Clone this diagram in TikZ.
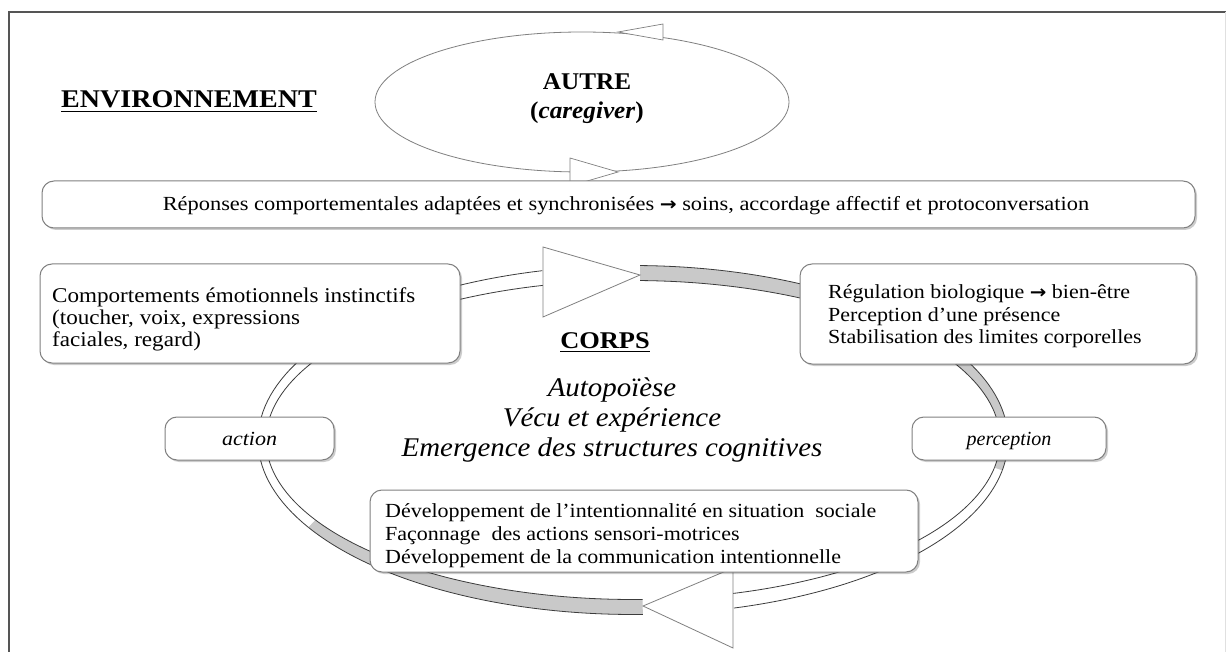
\documentclass[tikz,border=0pt]{standalone}
\usepackage{fontspec}
\setmainfont{Liberation Serif}
\newfontfamily\arrowfont{DejaVu Sans}
\usetikzlibrary{shadows,shapes.geometric}
\definecolor{framecol}{HTML}{555555}
\definecolor{edgecol}{HTML}{808080}
\definecolor{bandcol}{HTML}{C9C9C9}
\definecolor{bandedge}{HTML}{3C3C3C}
\newcommand\myfs[2]{\fontsize{#1}{#2}\selectfont}
\newcommand\sx[2][1.1]{\scalebox{#1}[1]{#2}}
\newcommand\arr{{\arrowfont\bfseries\scalebox{0.9}{→}}}
\newcommand\bandseg[3]{%
  \fill[#3] plot[domain=#1:#2,samples=60] ({633+375*cos(\x)},{440+174.5*sin(\x)})
     -- plot[domain=#2:#1,samples=60] ({633+367*cos(\x)},{440+159.5*sin(\x)}) -- cycle;
  \draw[bandline] plot[domain=#1:#2,samples=60] ({633+375*cos(\x)},{440+174.5*sin(\x)});
  \draw[bandline] plot[domain=#1:#2,samples=60] ({633+367*cos(\x)},{440+159.5*sin(\x)});
}
\tikzset{
  frameline/.style={draw=framecol, line width=1.5pt},
  boxst/.style={draw=edgecol, line width=1pt, rounded corners=12pt, fill=white,
     drop shadow={shadow xshift=2pt, shadow yshift=-2pt, opacity=.2, fill=black}},
  txt/.style={inner sep=0pt, anchor=base west},
  ctxt/.style={inner sep=0pt, anchor=base},
  bandline/.style={draw=bandedge, line width=0.8pt},
  tri/.style={draw=edgecol, line width=0.8pt, fill=white, line join=miter},
  thintri/.style={draw=edgecol, line width=0.7pt, fill=white},
  bodytxt/.style={font=\myfs{20}{22}},
  lefttxt/.style={font=\myfs{21}{22}},
}
\begin{document}
\begin{tikzpicture}[x=1pt,y=-1pt]
\useasboundingbox (0,0) rectangle (1226,652);
\fill[white] (0,0) rectangle (1226,652);
% frame
\draw[frameline] (9,652) -- (9,12) -- (1226,12);
\draw[draw=black!12, line width=1pt] (1225,12) -- (1225,652);

% ENVIRONNEMENT
\node[ctxt, font=\myfs{25.5}{30}\bfseries] (env) at (189,108) {\sx{ENVIRONNEMENT}};
\draw[line width=1.8pt] ([yshift=-3.5pt]env.base west) -- ([yshift=-3.5pt]env.base east);

% top ellipse
\node[draw=edgecol, line width=0.8pt, ellipse, minimum width=414pt, minimum height=140pt, inner sep=0pt] (autre) at (582,102) {};
\draw[thintri] (663,24) -- (618,32) -- (663,40) -- cycle;
\draw[thintri] (570,158) -- (618,172) -- (570,186) -- cycle;
\node[ctxt, font=\myfs{24}{26}\bfseries] (autreA) at (587,90) {\sx[1.05]{AUTRE}};
\node[ctxt, font=\myfs{24}{26}\bfseries] (autreB) at (587,119) {\sx[1.05]{(\textit{caregiver})}};

% wide box
\node[boxst, minimum width=1153pt, minimum height=47pt] (wb) at (618.5,204.5) {};
\node[ctxt, bodytxt] (wbt) at (626,211) {\sx[1.12]{Réponses comportementales adaptées et synchronisées \arr{} soins, accordage affectif et protoconversation}};

% ring
\bandseg{10}{74.4}{white}
\bandseg{88.5}{150}{bandcol}
\bandseg{150}{256}{white}
\bandseg{271.1}{370}{bandcol}
\draw[tri] (543,247) -- (640,275) -- (543,317) -- cycle;
\draw[tri] (733,568) -- (643,606) -- (733,648) -- cycle;

% left box
\node[boxst, minimum width=420pt, minimum height=99pt] (lb) at (250,313.5) {};
\node[txt, lefttxt] (lb1) at (52,302) {\sx{Comportements émotionnels instinctifs}};
\node[txt, lefttxt] (lb2) at (52,324) {\sx{(toucher, voix, expressions}};
\node[txt, lefttxt] (lb3) at (52,346) {\sx{faciales, regard)}};

% right box
\node[boxst, minimum width=396pt, minimum height=100pt] (rb) at (998,314) {};
\node[txt, bodytxt] (rb1) at (828,299) {\sx{Régulation biologique \arr{} bien-être}};
\node[txt, bodytxt] (rb2) at (828,321) {\sx{Perception d’une présence}};
\node[txt, bodytxt] (rb3) at (828,343) {\sx{Stabilisation des limites corporelles}};

% CORPS
\node[ctxt, font=\myfs{24}{28}\bfseries] (corps) at (605,348) {\sx{CORPS}};
\draw[line width=1.8pt] ([yshift=-3.5pt]corps.base west) -- ([yshift=-3.5pt]corps.base east);
\node[ctxt, font=\myfs{27}{28}\itshape] (c1) at (612,396) {\sx[1.07]{Autopoïèse}};
\node[ctxt, font=\myfs{27}{28}\itshape] (c2) at (612,426) {\sx[1.07]{Vécu et expérience}};
\node[ctxt, font=\myfs{27}{28}\itshape] (c3) at (612,456) {\sx[1.07]{Emergence des structures cognitives}};

% action / perception
\node[boxst, minimum width=169pt, minimum height=43pt] (ab) at (249.5,438.5) {};
\node[ctxt, font=\myfs{20}{22}\itshape] (abt) at (249.5,445) {\sx[1.1]{action}};
\node[boxst, minimum width=194pt, minimum height=43pt] (pb) at (1009,438.5) {};
\node[ctxt, font=\myfs{20}{22}\itshape] (pbt) at (1009,445) {perception};

% bottom box
\node[boxst, minimum width=548pt, minimum height=82pt] (bb) at (644,531) {};
\node[txt, bodytxt] (bb1) at (385,517) {\sx{Développement de l’intentionnalité en situation\ \ sociale}};
\node[txt, bodytxt] (bb2) at (385,540) {\sx{Façonnage\ \ des actions sensori-motrices}};
\node[txt, bodytxt] (bb3) at (385,563) {\sx{Développement de la communication intentionnelle}};
\end{tikzpicture}
\end{document}
